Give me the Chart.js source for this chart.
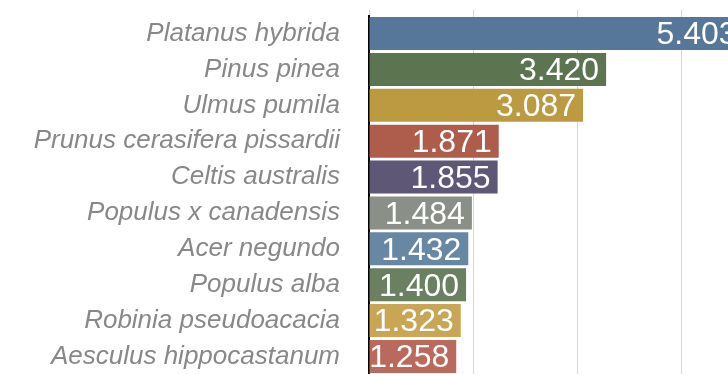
<!DOCTYPE html>
<html>
<head>
<meta charset="utf-8">
<script src="https://cdn.jsdelivr.net/npm/chart.js@4"></script>
<style>
  html, body { margin: 0; padding: 0; background: #fff; overflow: hidden; }
  #wrap { width: 790px; height: 374px; overflow: hidden; }
</style>
</head>
<body>
<div id="wrap"><canvas id="chart" width="790" height="390"></canvas></div>
<script>
const species = [
  "Platanus hybrida",
  "Pinus pinea",
  "Ulmus pumila",
  "Prunus cerasifera pissardii",
  "Celtis australis",
  "Populus x canadensis",
  "Acer negundo",
  "Populus alba",
  "Robinia pseudoacacia",
  "Aesculus hippocastanum",
];
const counts = [5.403, 3.42, 3.087, 1.871, 1.855, 1.484, 1.432, 1.4, 1.323, 1.258];
const barColors = [
  "#57779a", "#5c7550", "#bb9a42", "#ae5c4c", "#5e5776",
  "#8a8f88", "#6787a3", "#6a8060", "#c8a656", "#b96a5c",
];

// white value text sitting inside the right end of each bar
const valueLabels = {
  id: "valueLabels",
  afterDatasetsDraw(chart) {
    const ctx = chart.ctx;
    const meta = chart.getDatasetMeta(0);
    ctx.save();
    ctx.font = '32px "Liberation Sans", Arial, sans-serif';
    ctx.fillStyle = "#fff";
    ctx.textAlign = "right";
    ctx.textBaseline = "middle";
    meta.data.forEach((bar, i) => {
      ctx.fillText(counts[i].toFixed(3), bar.x - 7, bar.y + 2);
    });
    ctx.restore();
  },
};

const ctx = document.getElementById("chart");
new Chart(ctx, {
  type: "bar",
  data: {
    labels: species,
    datasets: [{
      data: counts,
      backgroundColor: barColors,
      barPercentage: 0.92,
      categoryPercentage: 1.0,
    }],
  },
  options: {
    indexAxis: "y",
    responsive: false,
    animation: false,
    layout: { padding: { top: 9.5, right: 5, bottom: 0, left: 0 } },
    plugins: {
      legend: { display: false },
      tooltip: { enabled: false },
    },
    scales: {
      x: {
        position: "top",
        min: 0,
        max: 6,
        ticks: { display: false, stepSize: 1.5 },
        grid: { color: "#d6d6d6", lineWidth: 1, tickLength: 6 },
        border: { display: false },
      },
      y: {
        // invisible tick marks keep the names clear of the axis line
        grid: { drawOnChartArea: false, color: "rgba(0,0,0,0)", tickLength: 29 },
        border: { color: "#000", width: 2 },
        ticks: {
          color: "#888",
          padding: 0,
          font: { family: '"Liberation Sans", Arial, sans-serif', size: 26, style: "italic" },
        },
        afterFit(scale) { scale.width = 369; },
      },
    },
  },
  plugins: [valueLabels],
});
</script>
</body>
</html>
